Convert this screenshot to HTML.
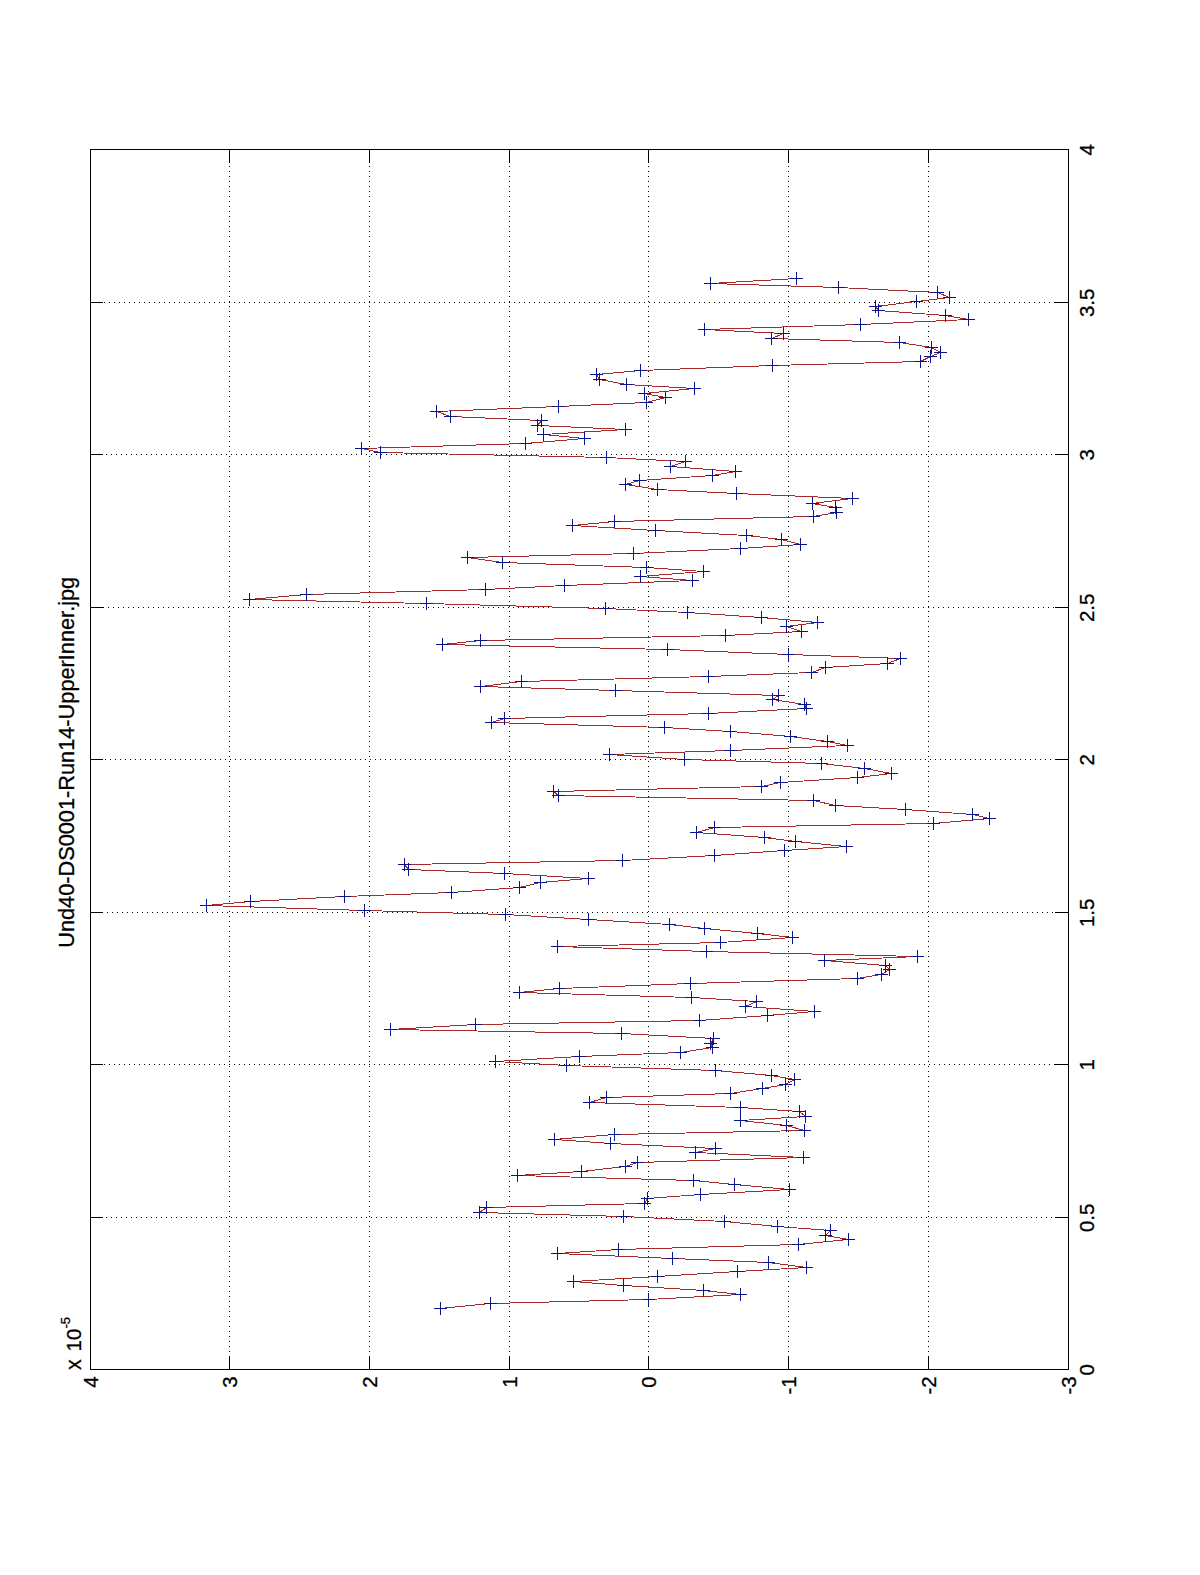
<!DOCTYPE html><html><head><meta charset="utf-8"><title>Und40-DS0001-Run14-UpperInner.jpg</title>
<style>html,body{margin:0;padding:0;background:#fff;overflow:hidden;}svg{display:block;}</style></head><body>
<svg width="1200" height="1575" viewBox="0 0 1200 1575">
<rect x="0" y="0" width="1200" height="1575" fill="#fff"/>
<path d="M229.5 166V1352M369.5 166V1352M509.5 166V1352M648.5 166V1352M788.5 166V1352M928.5 166V1352M106 1217.5H1055M104 1064.5H1055M107 912.5H1055M105 759.5H1055M103 607.5H1055M106 454.5H1055M104 302.5H1055" stroke="#000" stroke-width="1" stroke-dasharray="1 4" fill="none" shape-rendering="crispEdges"/>
<path d="M90 149.5H1069M90 1369.5H1069M90.5 149V1370M1068.5 149V1370M229.5 149V163M229.5 1356V1369M369.5 149V163M369.5 1356V1369M509.5 149V163M509.5 1356V1369M648.5 149V163M648.5 1356V1369M788.5 149V163M788.5 1356V1369M928.5 149V163M928.5 1356V1369M90 1217.5H103M1055 1217.5H1068M90 1064.5H103M1055 1064.5H1068M90 912.5H103M1055 912.5H1068M90 759.5H103M1055 759.5H1068M90 607.5H103M1055 607.5H1068M90 454.5H103M1055 454.5H1068M90 302.5H103M1055 302.5H1068" stroke="#000" stroke-width="1" fill="none" shape-rendering="crispEdges"/>
<path d="M440.5 1308.5 L490.5 1303.5 L648.5 1299.5 L740.5 1294.5 L703.5 1290.5 L623.5 1285.5 L573.5 1281.5 L657.5 1276.5 L737.5 1271.5 L806.5 1267.5 L768.5 1262.5 L672.5 1258.5 L557.5 1253.5 L618.5 1249.5 L798.5 1244.5 L848.5 1239.5 L825.5 1235.5 L830.5 1230.5 L777.5 1226.5 L724.5 1221.5 L623.5 1216.5 L479.5 1212.5 L486.5 1207.5 L644.5 1203.5 L647.5 1198.5 L700.5 1194.5 L789.5 1189.5 L734.5 1184.5 L693.5 1180.5 L517.5 1175.5 L581.5 1171.5 L625.5 1166.5 L637.5 1162.5 L803.5 1157.5 L695.5 1152.5 L715.5 1148.5 L610.5 1143.5 L554.5 1139.5 L614.5 1134.5 L804.5 1130.5 L786.5 1125.5 L740.5 1120.5 L805.5 1116.5 L799.5 1111.5 L740.5 1107.5 L589.5 1102.5 L606.5 1097.5 L730.5 1093.5 L762.5 1088.5 L785.5 1084.5 L794.5 1079.5 L771.5 1075.5 L715.5 1070.5 L566.5 1065.5 L495.5 1061.5 L579.5 1056.5 L680.5 1052.5 L712.5 1047.5 L710.5 1043.5 L713.5 1038.5 L621.5 1033.5 L390.5 1029.5 L475.5 1024.5 L699.5 1020.5 L767.5 1015.5 L814.5 1011.5 L745.5 1006.5 L756.5 1001.5 L691.5 997.5 L519.5 992.5 L559.5 988.5 L690.5 983.5 L857.5 978.5 L881.5 974.5 L889.5 969.5 L885.5 965.5 L824.5 960.5 L917.5 956.5 L706.5 951.5 L557.5 946.5 L720.5 942.5 L792.5 937.5 L757.5 933.5 L704.5 928.5 L669.5 924.5 L588.5 919.5 L505.5 914.5 L364.5 910.5 L206.5 905.5 L250.5 901.5 L344.5 896.5 L451.5 892.5 L519.5 887.5 L540.5 882.5 L588.5 878.5 L504.5 873.5 L408.5 869.5 L404.5 864.5 L622.5 860.5 L714.5 855.5 L784.5 850.5 L846.5 846.5 L795.5 841.5 L764.5 837.5 L696.5 832.5 L714.5 827.5 L933.5 823.5 L989.5 818.5 L972.5 814.5 L905.5 809.5 L835.5 805.5 L813.5 800.5 L558.5 795.5 L553.5 791.5 L761.5 786.5 L780.5 782.5 L857.5 777.5 L891.5 773.5 L864.5 768.5 L821.5 763.5 L684.5 759.5 L609.5 754.5 L730.5 750.5 L847.5 745.5 L827.5 741.5 L790.5 736.5 L730.5 731.5 L664.5 727.5 L491.5 722.5 L504.5 718.5 L708.5 713.5 L806.5 708.5 L804.5 704.5 L772.5 699.5 L778.5 695.5 L615.5 690.5 L480.5 686.5 L521.5 681.5 L708.5 676.5 L811.5 672.5 L825.5 667.5 L887.5 663.5 L900.5 658.5 L788.5 654.5 L667.5 649.5 L442.5 644.5 L480.5 640.5 L725.5 635.5 L801.5 631.5 L786.5 626.5 L817.5 622.5 L761.5 617.5 L687.5 612.5 L605.5 608.5 L426.5 603.5 L249.5 599.5 L306.5 594.5 L485.5 589.5 L564.5 585.5 L692.5 580.5 L640.5 576.5 L703.5 571.5 L646.5 567.5 L502.5 562.5 L467.5 557.5 L633.5 553.5 L740.5 548.5 L800.5 544.5 L781.5 539.5 L746.5 535.5 L655.5 530.5 L572.5 525.5 L614.5 521.5 L813.5 516.5 L836.5 512.5 L835.5 507.5 L812.5 503.5 L852.5 498.5 L736.5 493.5 L657.5 489.5 L625.5 484.5 L639.5 480.5 L712.5 475.5 L735.5 471.5 L670.5 466.5 L685.5 461.5 L606.5 457.5 L380.5 452.5 L361.5 448.5 L525.5 443.5 L584.5 438.5 L543.5 434.5 L625.5 429.5 L537.5 425.5 L541.5 420.5 L450.5 416.5 L436.5 411.5 L558.5 406.5 L646.5 402.5 L665.5 397.5 L644.5 393.5 L694.5 388.5 L626.5 384.5 L599.5 379.5 L596.5 374.5 L640.5 370.5 L772.5 365.5 L920.5 361.5 L930.5 356.5 L940.5 352.5 L931.5 347.5 L899.5 342.5 L771.5 338.5 L783.5 333.5 L704.5 329.5 L860.5 324.5 L968.5 319.5 L945.5 315.5 L878.5 310.5 L875.5 306.5 L916.5 301.5 L949.5 297.5 L937.5 292.5 L838.5 287.5 L710.5 283.5 L796.5 278.5" stroke="#a82a2a" stroke-width="1" fill="none" shape-rendering="crispEdges"/>
<path d="M434 1308.5h13M440.5 1302v13M484 1303.5h13M490.5 1297v13M642 1299.5h13M648.5 1293v13M734 1294.5h13M740.5 1288v13M697 1290.5h13M703.5 1284v13M617 1285.5h13M623.5 1279v13M567 1281.5h13M573.5 1275v13M651 1276.5h13M657.5 1270v13M731 1271.5h13M737.5 1265v13M800 1267.5h13M806.5 1261v13M762 1262.5h13M768.5 1256v13M666 1258.5h13M672.5 1252v13M551 1253.5h13M557.5 1247v13M612 1249.5h13M618.5 1243v13M792 1244.5h13M798.5 1238v13M842 1239.5h13M848.5 1233v13M819 1235.5h13M825.5 1229v13M824 1230.5h13M830.5 1224v13M771 1226.5h13M777.5 1220v13M718 1221.5h13M724.5 1215v13M617 1216.5h13M623.5 1210v13M473 1212.5h13M479.5 1206v13M480 1207.5h13M486.5 1201v13M638 1203.5h13M644.5 1197v13M641 1198.5h13M647.5 1192v13M694 1194.5h13M700.5 1188v13M783 1189.5h13M789.5 1183v13M728 1184.5h13M734.5 1178v13M687 1180.5h13M693.5 1174v13M511 1175.5h13M517.5 1169v13M575 1171.5h13M581.5 1165v13M619 1166.5h13M625.5 1160v13M631 1162.5h13M637.5 1156v13M797 1157.5h13M803.5 1151v13M689 1152.5h13M695.5 1146v13M709 1148.5h13M715.5 1142v13M604 1143.5h13M610.5 1137v13M548 1139.5h13M554.5 1133v13M608 1134.5h13M614.5 1128v13M798 1130.5h13M804.5 1124v13M780 1125.5h13M786.5 1119v13M734 1120.5h13M740.5 1114v13M799 1116.5h13M805.5 1110v13M793 1111.5h13M799.5 1105v13M734 1107.5h13M740.5 1101v13M583 1102.5h13M589.5 1096v13M600 1097.5h13M606.5 1091v13M724 1093.5h13M730.5 1087v13M756 1088.5h13M762.5 1082v13M779 1084.5h13M785.5 1078v13M788 1079.5h13M794.5 1073v13M765 1075.5h13M771.5 1069v13M709 1070.5h13M715.5 1064v13M560 1065.5h13M566.5 1059v13M489 1061.5h13M495.5 1055v13M573 1056.5h13M579.5 1050v13M674 1052.5h13M680.5 1046v13M706 1047.5h13M712.5 1041v13M704 1043.5h13M710.5 1037v13M707 1038.5h13M713.5 1032v13M615 1033.5h13M621.5 1027v13M384 1029.5h13M390.5 1023v13M469 1024.5h13M475.5 1018v13M693 1020.5h13M699.5 1014v13M761 1015.5h13M767.5 1009v13M808 1011.5h13M814.5 1005v13M739 1006.5h13M745.5 1000v13M750 1001.5h13M756.5 995v13M685 997.5h13M691.5 991v13M513 992.5h13M519.5 986v13M553 988.5h13M559.5 982v13M684 983.5h13M690.5 977v13M851 978.5h13M857.5 972v13M875 974.5h13M881.5 968v13M883 969.5h13M889.5 963v13M879 965.5h13M885.5 959v13M818 960.5h13M824.5 954v13M911 956.5h13M917.5 950v13M700 951.5h13M706.5 945v13M551 946.5h13M557.5 940v13M714 942.5h13M720.5 936v13M786 937.5h13M792.5 931v13M751 933.5h13M757.5 927v13M698 928.5h13M704.5 922v13M663 924.5h13M669.5 918v13M582 919.5h13M588.5 913v13M499 914.5h13M505.5 908v13M358 910.5h13M364.5 904v13M200 905.5h13M206.5 899v13M244 901.5h13M250.5 895v13M338 896.5h13M344.5 890v13M445 892.5h13M451.5 886v13M513 887.5h13M519.5 881v13M534 882.5h13M540.5 876v13M582 878.5h13M588.5 872v13M498 873.5h13M504.5 867v13M402 869.5h13M408.5 863v13M398 864.5h13M404.5 858v13M616 860.5h13M622.5 854v13M708 855.5h13M714.5 849v13M778 850.5h13M784.5 844v13M840 846.5h13M846.5 840v13M789 841.5h13M795.5 835v13M758 837.5h13M764.5 831v13M690 832.5h13M696.5 826v13M708 827.5h13M714.5 821v13M927 823.5h13M933.5 817v13M983 818.5h13M989.5 812v13M966 814.5h13M972.5 808v13M899 809.5h13M905.5 803v13M829 805.5h13M835.5 799v13M807 800.5h13M813.5 794v13M552 795.5h13M558.5 789v13M547 791.5h13M553.5 785v13M755 786.5h13M761.5 780v13M774 782.5h13M780.5 776v13M851 777.5h13M857.5 771v13M885 773.5h13M891.5 767v13M858 768.5h13M864.5 762v13M815 763.5h13M821.5 757v13M678 759.5h13M684.5 753v13M603 754.5h13M609.5 748v13M724 750.5h13M730.5 744v13M841 745.5h13M847.5 739v13M821 741.5h13M827.5 735v13M784 736.5h13M790.5 730v13M724 731.5h13M730.5 725v13M658 727.5h13M664.5 721v13M485 722.5h13M491.5 716v13M498 718.5h13M504.5 712v13M702 713.5h13M708.5 707v13M800 708.5h13M806.5 702v13M798 704.5h13M804.5 698v13M766 699.5h13M772.5 693v13M772 695.5h13M778.5 689v13M609 690.5h13M615.5 684v13M474 686.5h13M480.5 680v13M515 681.5h13M521.5 675v13M702 676.5h13M708.5 670v13M805 672.5h13M811.5 666v13M819 667.5h13M825.5 661v13M881 663.5h13M887.5 657v13M894 658.5h13M900.5 652v13M782 654.5h13M788.5 648v13M661 649.5h13M667.5 643v13M436 644.5h13M442.5 638v13M474 640.5h13M480.5 634v13M719 635.5h13M725.5 629v13M795 631.5h13M801.5 625v13M780 626.5h13M786.5 620v13M811 622.5h13M817.5 616v13M755 617.5h13M761.5 611v13M681 612.5h13M687.5 606v13M599 608.5h13M605.5 602v13M420 603.5h13M426.5 597v13M243 599.5h13M249.5 593v13M300 594.5h13M306.5 588v13M479 589.5h13M485.5 583v13M558 585.5h13M564.5 579v13M686 580.5h13M692.5 574v13M634 576.5h13M640.5 570v13M697 571.5h13M703.5 565v13M640 567.5h13M646.5 561v13M496 562.5h13M502.5 556v13M461 557.5h13M467.5 551v13M627 553.5h13M633.5 547v13M734 548.5h13M740.5 542v13M794 544.5h13M800.5 538v13M775 539.5h13M781.5 533v13M740 535.5h13M746.5 529v13M649 530.5h13M655.5 524v13M566 525.5h13M572.5 519v13M608 521.5h13M614.5 515v13M807 516.5h13M813.5 510v13M830 512.5h13M836.5 506v13M829 507.5h13M835.5 501v13M806 503.5h13M812.5 497v13M846 498.5h13M852.5 492v13M730 493.5h13M736.5 487v13M651 489.5h13M657.5 483v13M619 484.5h13M625.5 478v13M633 480.5h13M639.5 474v13M706 475.5h13M712.5 469v13M729 471.5h13M735.5 465v13M664 466.5h13M670.5 460v13M679 461.5h13M685.5 455v13M600 457.5h13M606.5 451v13M374 452.5h13M380.5 446v13M355 448.5h13M361.5 442v13M519 443.5h13M525.5 437v13M578 438.5h13M584.5 432v13M537 434.5h13M543.5 428v13M619 429.5h13M625.5 423v13M531 425.5h13M537.5 419v13M535 420.5h13M541.5 414v13M444 416.5h13M450.5 410v13M430 411.5h13M436.5 405v13M552 406.5h13M558.5 400v13M640 402.5h13M646.5 396v13M659 397.5h13M665.5 391v13M638 393.5h13M644.5 387v13M688 388.5h13M694.5 382v13M620 384.5h13M626.5 378v13M593 379.5h13M599.5 373v13M590 374.5h13M596.5 368v13M634 370.5h13M640.5 364v13M766 365.5h13M772.5 359v13M914 361.5h13M920.5 355v13M924 356.5h13M930.5 350v13M934 352.5h13M940.5 346v13M925 347.5h13M931.5 341v13M893 342.5h13M899.5 336v13M765 338.5h13M771.5 332v13M777 333.5h13M783.5 327v13M698 329.5h13M704.5 323v13M854 324.5h13M860.5 318v13M962 319.5h13M968.5 313v13M939 315.5h13M945.5 309v13M872 310.5h13M878.5 304v13M869 306.5h13M875.5 300v13M910 301.5h13M916.5 295v13M943 297.5h13M949.5 291v13M931 292.5h13M937.5 286v13M832 287.5h13M838.5 281v13M704 283.5h13M710.5 277v13M790 278.5h13M796.5 272v13" stroke="#0a148c" stroke-width="1" fill="none" shape-rendering="crispEdges"/>
<g font-family="Liberation Sans, Arial, sans-serif" font-size="20.5" fill="#000" stroke="#000" stroke-width="0.3">
<text transform="translate(97.8 1376.3) rotate(-90)" text-anchor="end">4</text>
<text transform="translate(236.8 1376.3) rotate(-90)" text-anchor="end">3</text>
<text transform="translate(376.8 1376.3) rotate(-90)" text-anchor="end">2</text>
<text transform="translate(516.8 1376.3) rotate(-90)" text-anchor="end">1</text>
<text transform="translate(655.8 1376.3) rotate(-90)" text-anchor="end">0</text>
<text transform="translate(795.8 1376.3) rotate(-90)" text-anchor="end">-1</text>
<text transform="translate(935.8 1376.3) rotate(-90)" text-anchor="end">-2</text>
<text transform="translate(1075.8 1376.3) rotate(-90)" text-anchor="end">-3</text>
<text transform="translate(1094 1369.8) rotate(-90)" text-anchor="middle">0</text>
<text transform="translate(1094 1217.8) rotate(-90)" text-anchor="middle">0.5</text>
<text transform="translate(1094 1064.8) rotate(-90)" text-anchor="middle">1</text>
<text transform="translate(1094 912.8) rotate(-90)" text-anchor="middle">1.5</text>
<text transform="translate(1094 759.8) rotate(-90)" text-anchor="middle">2</text>
<text transform="translate(1094 607.8) rotate(-90)" text-anchor="middle">2.5</text>
<text transform="translate(1094 454.8) rotate(-90)" text-anchor="middle">3</text>
<text transform="translate(1094 302.8) rotate(-90)" text-anchor="middle">3.5</text>
<text transform="translate(1094 149.8) rotate(-90)" text-anchor="middle">4</text>
<text transform="translate(81 1370) rotate(-90)" font-size="21.5">x</text>
<text transform="translate(81 1351.5) rotate(-90)">10</text>
<text transform="translate(69.5 1328.5) rotate(-90)" font-size="13">-5</text>
<text transform="translate(74 947.8) rotate(-90)" font-size="22.5" textLength="371" lengthAdjust="spacingAndGlyphs">Und40-DS0001-Run14-UpperInner.jpg</text>
</g>
</svg></body></html>
